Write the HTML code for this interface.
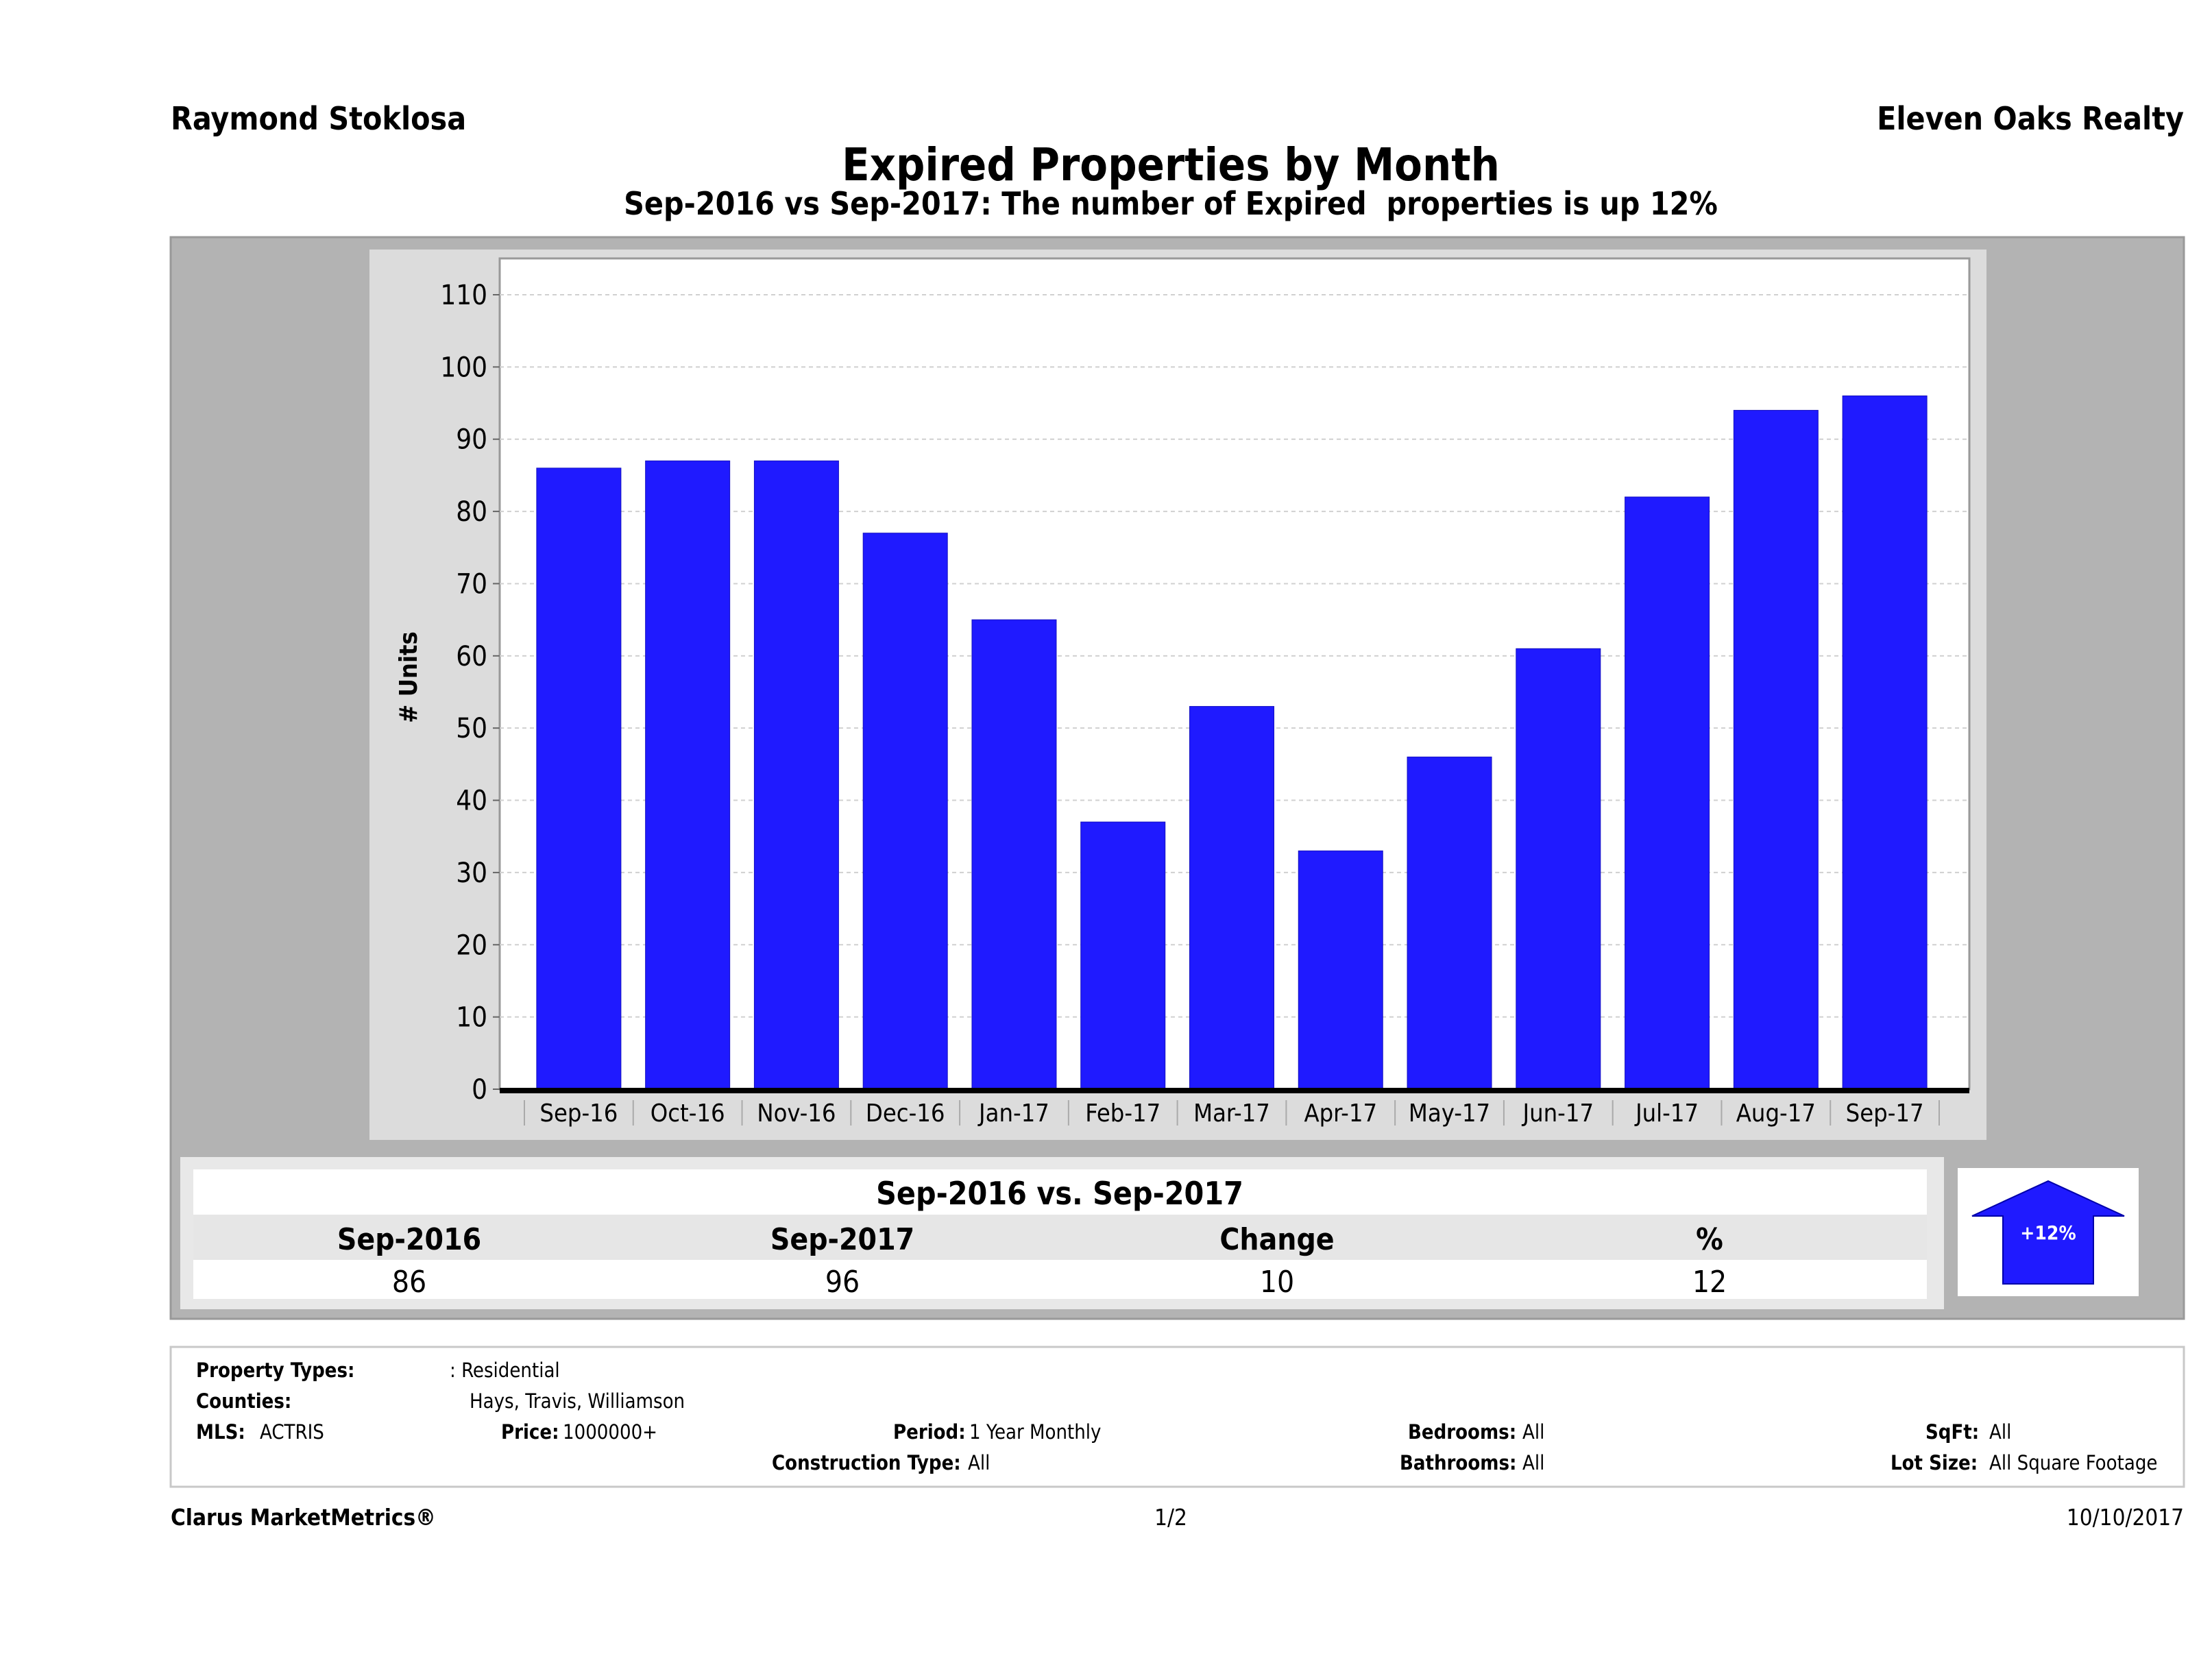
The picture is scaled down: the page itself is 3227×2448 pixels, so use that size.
<!DOCTYPE html>
<html><head><meta charset="utf-8"><style>
html,body{margin:0;padding:0;background:#fff}
svg{display:block;font-family:"DejaVu Sans Condensed","DejaVu Sans","Liberation Sans",sans-serif}
</style></head><body>
<svg id="page" width="3227" height="2448" viewBox="0 0 3227 2448" xmlns="http://www.w3.org/2000/svg">
<text x="249" y="189" font-size="46" font-weight="bold">Raymond Stoklosa</text>
<text x="3186" y="189" font-size="46" font-weight="bold" text-anchor="end">Eleven Oaks Realty</text>
<text x="1708" y="263" font-size="66" font-weight="bold" text-anchor="middle">Expired Properties by Month</text>
<text x="1708" y="313" font-size="46" font-weight="bold" text-anchor="middle" style="white-space:pre">Sep-2016 vs Sep-2017: The number of Expired  properties is up 12%</text>
<rect x="249" y="346" width="2937" height="1578" fill="#b3b3b3" stroke="#999" stroke-width="3"/>
<rect x="539" y="364" width="2359" height="1299" fill="#dcdcdc"/>
<rect x="729" y="377" width="2144" height="1212" fill="#fff" stroke="#999" stroke-width="3"/>
<g id="grid"></g>
<g id="bars"></g>
<g id="axes"></g>
<text transform="translate(608,988) rotate(-90)" font-size="36" font-weight="bold" text-anchor="middle">#  Units</text>

<rect x="263" y="1688" width="2573" height="222" fill="#e8e8e8"/>
<rect x="282" y="1706" width="2529" height="66" fill="#fff"/>
<rect x="282" y="1772" width="2529" height="66" fill="#e6e6e6"/>
<rect x="282" y="1838" width="2529" height="57" fill="#fff"/>
<text x="1546" y="1757" font-size="46" font-weight="bold" text-anchor="middle">Sep-2016 vs. Sep-2017</text>
<g font-size="44" text-anchor="middle">
<text x="597" y="1823" font-weight="bold">Sep-2016</text>
<text x="1229" y="1823" font-weight="bold">Sep-2017</text>
<text x="1863" y="1823" font-weight="bold">Change</text>
<text x="2494" y="1823" font-weight="bold">%</text>
<text x="597" y="1885">86</text>
<text x="1229" y="1885">96</text>
<text x="1863" y="1885">10</text>
<text x="2494" y="1885">12</text>
</g>
<rect x="2856" y="1704" width="264" height="187" fill="#fff"/>
<polygon points="2877,1774 2988,1723 3099,1774 3054,1774 3054,1873 2922,1873 2922,1774" fill="#1f1aff" stroke="#0000aa" stroke-width="2"/>
<text x="2988" y="1808" font-size="28" font-weight="bold" fill="#fff" text-anchor="middle">+12%</text>

<rect x="249" y="1965" width="2937" height="204" fill="#fff" stroke="#c8c8c8" stroke-width="3"/>
<g font-size="29">
<text x="286" y="2009" font-weight="bold">Property Types:</text><text x="656" y="2009">: Residential</text>
<text x="286" y="2054" font-weight="bold">Counties:</text><text x="685" y="2054">Hays, Travis, Williamson</text>
<text x="286" y="2099" font-weight="bold">MLS:</text><text x="379" y="2099">ACTRIS</text>
<text x="731" y="2099" font-weight="bold">Price:</text><text x="821" y="2099">1000000+</text>
<text x="1303" y="2099" font-weight="bold">Period:</text><text x="1414" y="2099">1 Year Monthly</text>
<text x="2054" y="2099" font-weight="bold">Bedrooms:</text><text x="2221" y="2099">All</text>
<text x="2809" y="2099" font-weight="bold">SqFt:</text><text x="2902" y="2099">All</text>
<text x="1126" y="2144" font-weight="bold">Construction Type:</text><text x="1412" y="2144">All</text>
<text x="2042" y="2144" font-weight="bold">Bathrooms:</text><text x="2221" y="2144">All</text>
<text x="2758" y="2144" font-weight="bold">Lot Size:</text><text x="2902" y="2144">All Square Footage</text>
</g>
<text x="249" y="2225" font-size="33" font-weight="bold">Clarus MarketMetrics®</text>
<text x="1708" y="2225" font-size="33" text-anchor="middle">1/2</text>
<text x="3186" y="2225" font-size="33" text-anchor="end">10/10/2017</text>
</svg>
<script>
const categories = ["Sep-16","Oct-16","Nov-16","Dec-16","Jan-17","Feb-17","Mar-17","Apr-17","May-17","Jun-17","Jul-17","Aug-17","Sep-17"];
const expiredCounts = [86,87,87,77,65,37,53,33,46,61,82,94,96];
const yTicks = [0,10,20,30,40,50,60,70,80,90,100,110];

const NS = "http://www.w3.org/2000/svg";
const PX0 = 729, PX1 = 2873, PY0 = 1589;
const yScale = v => PY0 - (v / 110) * (PY0 - 430);
const marginL = 36, marginR = 44, band = (PX1 - PX0 - marginL - marginR) / categories.length;
const xCenter = i => PX0 + marginL + band * (i + 0.5);
const barW = 123;
function mk(tag, attrs, parent) {
  const e = document.createElementNS(NS, tag);
  for (const k in attrs) e.setAttribute(k, attrs[k]);
  parent.appendChild(e);
  return e;
}
const grid = document.getElementById('grid');
const barsG = document.getElementById('bars');
const axes = document.getElementById('axes');
yTicks.forEach(t => {
  const y = yScale(t);
  if (t > 0) {
    const g = mk('line', {x1: PX0, x2: PX1, y1: y, y2: y, stroke: '#d0d0d0', 'stroke-width': 2, 'stroke-dasharray': '6,5'}, grid);
    
    
  }
  const tk = mk('line', {x1: PX0 - 10, x2: PX0, y1: y, y2: y, stroke: '#666', 'stroke-width': 2}, axes);
  
  
  const lb = mk('text', {x: PX0 - 18, y: y + 14, 'font-size': 40, 'text-anchor': 'end'}, axes);
  lb.textContent = t;
  
  
});
categories.forEach((c, i) => {
  const v = expiredCounts[i];
  const r = mk('rect', {x: xCenter(i) - barW / 2, y: yScale(v), width: barW, height: PY0 - yScale(v), fill: '#1f1aff', stroke: '#1410c0', 'stroke-width': 1}, barsG);
  
  
  const lb = mk('text', {x: xCenter(i), y: 1636, 'font-size': 36, 'text-anchor': 'middle'}, axes);
  lb.textContent = c;
  
  
  const sep = mk('line', {x1: xCenter(i) - band / 2, x2: xCenter(i) - band / 2, y1: 1605, y2: 1642, stroke: '#aaa', 'stroke-width': 2}, axes);
  
  
});
const lastSep = mk('line', {x1: xCenter(categories.length - 1) + band / 2, x2: xCenter(categories.length - 1) + band / 2, y1: 1605, y2: 1642, stroke: '#aaa', 'stroke-width': 2}, axes);


const base = mk('line', {x1: PX0, x2: PX1, y1: PY0 + 2, y2: PY0 + 2, stroke: '#000', 'stroke-width': 8}, axes);


</script>
</body></html>
